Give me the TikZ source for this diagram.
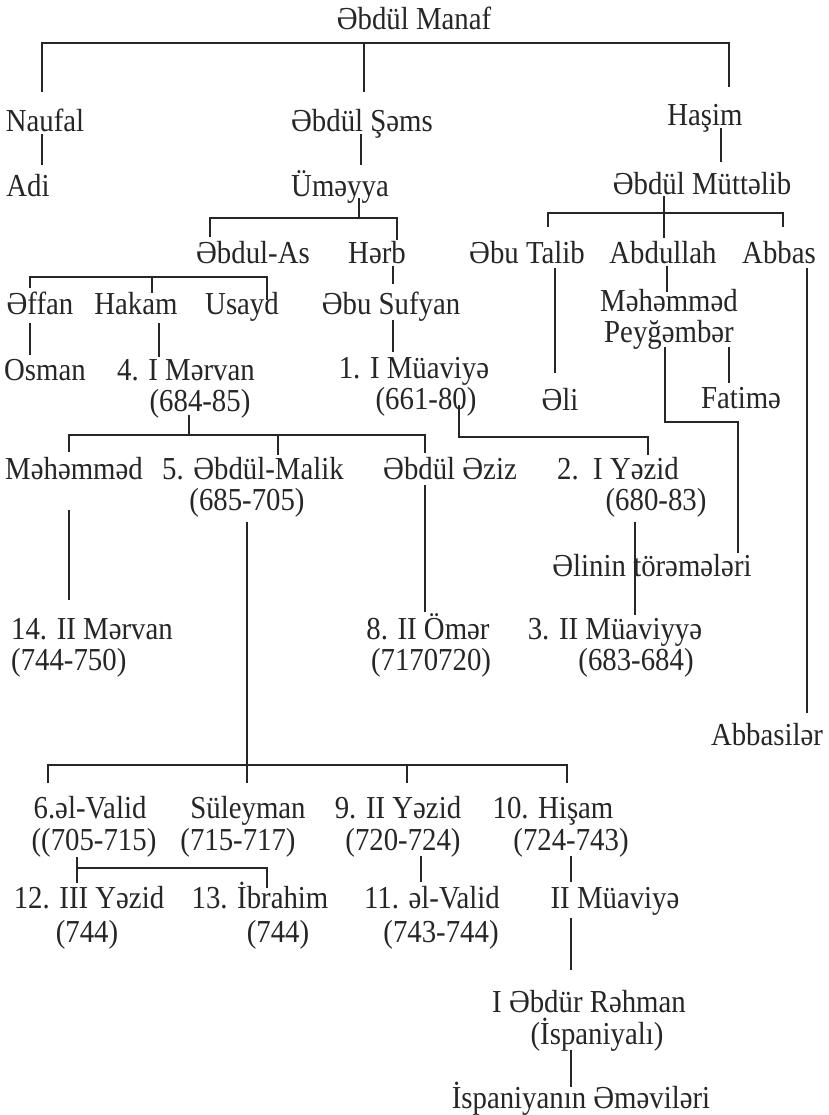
\documentclass[tikz,border=0pt]{standalone}
\usepackage{fontspec}
\setmainfont{Liberation Serif}[FakeStretch=0.9]
\definecolor{ink}{HTML}{262626}
\begin{document}
\begin{tikzpicture}[x=1pt,y=-1pt,
  lbl/.style={inner sep=0pt, anchor=base, text=ink, font=\fontsize{32}{36}\selectfont},
  lblL/.style={lbl, anchor=base west},
  tl/.style={draw=ink, line width=1.5pt, line cap=butt, line join=miter}]
\useasboundingbox[fill=white] (0,0) rectangle (828,1115);
% ---- nodes (x = centre, y = baseline) ----
\node[lbl] (title) at (414,30) {Əbdül Manaf};
\node[lbl] (naufal) at (45,132) {Naufal};
\node[lbl] (sems) at (362,132) {Əbdül Şəms};
\node[lbl] (hasim) at (705,126) {Haşim};
\node[lbl] (adi) at (28,197) {Adi};
\node[lbl] (umayya) at (340,197) {Üməyya};
\node[lbl] (muttalib) at (702,195) {Əbdül Müttəlib};
\node[lbl] (abdulas) at (253,263) {Əbdul-As};
\node[lbl] (harb) at (377,263) {Hərb};
\node[lbl] (abutalib) at (527,263) {Əbu Talib};
\node[lbl] (abdullah) at (663,263) {Abdullah};
\node[lbl] (abbas) at (779,263) {Abbas};
\node[lbl] (affan) at (40,314) {Əffan};
\node[lbl] (hakam) at (136,314) {Hakam};
\node[lbl] (usayd) at (242,314) {Usayd};
\node[lbl] (abusufyan) at (391,314) {Əbu Sufyan};
\node[lbl] (mahammadA) at (669,311) {Məhəmməd};
\node[lbl] (peygambar) at (669,342) {Peyğəmbər};
\node[lbl] (osman) at (45,380) {Osman};
\node[lbl] (marvan) at (186,380) {4. I Mərvan};
\node[lbl] (marvanD) at (200,411) {(684-85)};
\node[lbl] (muaviya) at (414,378) {1. I Müaviyə};
\node[lbl] (muaviyaD) at (426,409) {(661-80)};
\node[lbl] (ali) at (560,410) {Əli};
\node[lbl] (fatima) at (741,408) {Fatimə};
\node[lbl] (mahammadB) at (74,479) {Məhəmməd};
\node[lbl] (malik) at (253,479) {5. Əbdül-Malik};
\node[lbl] (malikD) at (247,510) {(685-705)};
\node[lbl] (aziz) at (450,479) {Əbdül Əziz};
\node[lbl] (yazidA) at (618,479) {2.\ \ I Yəzid};
\node[lbl] (yazidAD) at (656,510) {(680-83)};
\node[lbl] (alinin) at (652,576) {Əlinin törəmələri};
\node[lblL] (marvanB) at (11,639) {14. II Mərvan};
\node[lblL] (marvanBD) at (11,670) {(744-750)};
\node[lbl] (omar) at (428,639) {8. II Ömər};
\node[lbl] (omarD) at (431,670) {(7170720)};
\node[lbl] (muaviyya) at (615,639) {3. II Müaviyyə};
\node[lbl] (muaviyyaD) at (636,670) {(683-684)};
\node[lbl] (abbasilar) at (767,745) {Abbasilər};
\node[lbl] (valid) at (90,818) {6.əl-Valid};
\node[lbl] (validD) at (94,850) {((705-715)};
\node[lbl] (suleyman) at (248,818) {Süleyman};
\node[lbl] (suleymanD) at (238,850) {(715-717)};
\node[lbl] (yazidB) at (398,818) {9. II Yəzid};
\node[lbl] (yazidBD) at (403,850) {(720-724)};
\node[lbl] (hisam) at (553,818) {10. Hişam};
\node[lbl] (hisamD) at (571,850) {(724-743)};
\node[lbl] (yazidC) at (89,908) {12. III Yəzid};
\node[lbl] (yazidCD) at (87,942) {(744)};
\node[lbl] (ibrahim) at (260,908) {13. İbrahim};
\node[lbl] (ibrahimD) at (278,942) {(744)};
\node[lbl] (validB) at (432,908) {11. əl-Valid};
\node[lbl] (validBD) at (441,942) {(743-744)};
\node[lbl] (muaviyaB) at (615,908) {II Müaviyə};
\node[lbl] (rahman) at (589,1012) {I Əbdür Rəhman};
\node[lbl] (ispaniyali) at (597,1044) {(İspaniyalı)};
\node[lbl] (emeviler) at (581,1108) {İspaniyanın Əməviləri};
% ---- connectors ----
\draw[tl] (42,92) -- (42,43) -- (729,43) -- (729,87);
\draw[tl] (364,43) -- (364,92);
\draw[tl] (42,134) -- (42,165);
\draw[tl] (361,134) -- (361,165);
\draw[tl] (721,128) -- (721,162);
\draw[tl] (359,198) -- (359,218);
\draw[tl] (210,237) -- (210,218) -- (397,218) -- (397,240);
\draw[tl] (664,196) -- (664,238);
\draw[tl] (548,227) -- (548,213) -- (783,213) -- (783,227);
\draw[tl] (30,288) -- (30,277) -- (267,277) -- (267,300);
\draw[tl] (152,277) -- (152,293);
\draw[tl] (393,266) -- (393,284);
\draw[tl] (30,323) -- (30,355);
\draw[tl] (159,323) -- (159,357);
\draw[tl] (393,320) -- (393,352);
\draw[tl] (807,268) -- (807,713);
\draw[tl] (555,268) -- (555,373);
\draw[tl] (667,266) -- (667,292);
\draw[tl] (729,347) -- (729,383);
\draw[tl] (665,347) -- (665,422) -- (738,422) -- (738,553);
\draw[tl] (189,415) -- (189,435);
\draw[tl] (69,452) -- (69,435) -- (425,435) -- (425,453);
\draw[tl] (278,435) -- (278,455);
\draw[tl] (459,405) -- (459,437) -- (648,437) -- (648,455);
\draw[tl] (69,510) -- (69,600);
\draw[tl] (425,485) -- (425,612);
\draw[tl] (635,522) -- (635,615);
\draw[tl] (247,522) -- (247,783);
\draw[tl] (48,783) -- (48,765) -- (567,765) -- (567,783);
\draw[tl] (407,765) -- (407,783);
\draw[tl] (77,857) -- (77,883);
\draw[tl] (77,868) -- (267,868) -- (267,888);
\draw[tl] (421,856) -- (421,882);
\draw[tl] (571,856) -- (571,882);
\draw[tl] (571,918) -- (571,970);
\draw[tl] (571,1050) -- (571,1087);
\end{tikzpicture}
\end{document}
